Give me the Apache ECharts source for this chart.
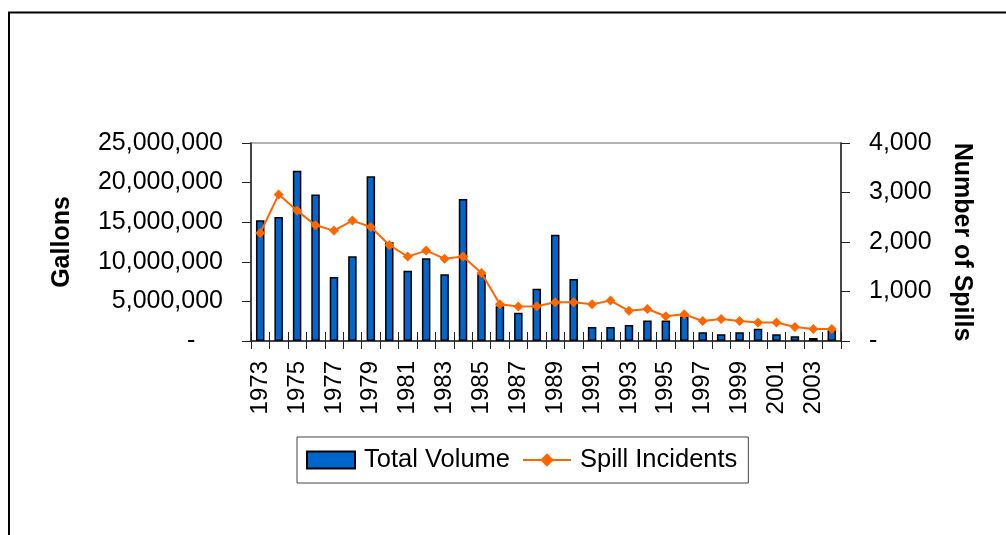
<!DOCTYPE html>
<html>
<head>
<meta charset="utf-8">
<script src="https://cdn.jsdelivr.net/npm/echarts@6/dist/echarts.min.js"></script>
<style>
html,body{margin:0;padding:0;background:#fff;}
#c{width:1006px;height:535px;}
</style>
</head>
<body>
<div id="c"></div>
<script>
const years = ['1973','1974','1975','1976','1977','1978','1979','1980','1981','1982','1983','1984','1985','1986','1987','1988','1989','1990','1991','1992','1993','1994','1995','1996','1997','1998','1999','2000','2001','2002','2003','2004'];
const totalVolume = [15240000,15660000,21500000,18500000,8080000,10700000,20800000,12460000,8880000,10440000,8420000,17930000,8420000,4380000,3580000,6610000,13430000,7830000,1770000,1770000,2020000,2600000,2600000,3100000,1100000,850000,1100000,1560000,850000,590000,380000,1350000];
const spillIncidents = [2182,2958,2634,2337,2230,2432,2303,1939,1705,1826,1664,1705,1374,741,695,701,782,782,741,816,610,646,499,539,404,444,404,372,372,283,242,242];

const FONT = 'Liberation Sans, Arial, sans-serif';
function fmt(v){ return v === 0 ? '-' : v.toLocaleString('en-US'); }

const chart = echarts.init(document.getElementById('c'));
chart.setOption({
  animation: false,
  backgroundColor: '#fff',
  graphic: [{
    type: 'rect',
    shape: {x: 9, y: 12.5, width: 1200, height: 700},
    style: {fill: 'none', stroke: '#000', lineWidth: 2},
    silent: true
  }],
  grid: {left: 251, right: 165, top: 143, bottom: 194, show: true, borderColor: '#999', borderWidth: 1.5, backgroundColor: 'transparent'},
  legend: {
    left: 297, top: 437,
    padding: [10, 11, 10, 9],
    borderColor: '#444', borderWidth: 1,
    itemWidth: 48, itemHeight: 17, itemGap: 12,
    textStyle: {fontFamily: FONT, fontSize: 25.5, color: '#000', lineHeight: 26, padding: [0,0,0,4]},
    data: [
      {name: 'Total Volume', icon: 'rect'},
      {name: 'Spill Incidents'}
    ]
  },
  xAxis: [{
    type: 'category', data: years, position: 'bottom',
    axisLine: {lineStyle: {color: '#222', width: 1.5}},
    axisTick: {show: true, length: 8, alignWithLabel: false, interval: 0, lineStyle: {color: '#222'}},
    axisLabel: {interval: 1, rotate: 90, margin: 20, fontFamily: FONT, fontSize: 24, color: '#000'},
    splitLine: {show: false}
  },{
    type: 'category', data: years, position: 'bottom',
    axisLine: {show: false},
    axisTick: {show: true, inside: true, length: 9, interval: 0, lineStyle: {color: '#222'}},
    axisLabel: {show: false},
    splitLine: {show: false}
  }],
  yAxis: [{
    type: 'value', min: 0, max: 25000000, interval: 5000000, position: 'left',
    name: 'Gallons', nameLocation: 'middle', nameGap: 176, nameRotate: 90,
    nameTextStyle: {fontFamily: FONT, fontSize: 25, fontWeight: 'bold', color: '#000'},
    axisLine: {show: true, onZero: false, lineStyle: {color: '#222', width: 1.5}},
    axisTick: {show: true, length: 9, lineStyle: {color: '#222'}},
    axisLabel: {margin: 28, fontFamily: FONT, fontSize: 25, color: '#000',
      formatter: v => v === 0 ? '-    ' : fmt(v)},
    splitLine: {show: false}
  },{
    type: 'value', min: 0, max: 4000, interval: 1000, position: 'right',
    name: 'Number of Spills', nameLocation: 'middle', nameGap: 108, nameRotate: -90,
    nameTextStyle: {fontFamily: FONT, fontSize: 25, fontWeight: 'bold', color: '#000'},
    axisLine: {show: true, onZero: false, lineStyle: {color: '#222', width: 1.5}},
    axisTick: {show: true, length: 9, lineStyle: {color: '#222'}},
    axisLabel: {margin: 28, fontFamily: FONT, fontSize: 25, color: '#000', formatter: fmt},
    splitLine: {show: false}
  }],
  series: [{
    name: 'Total Volume', type: 'bar', data: totalVolume, xAxisIndex: 0, yAxisIndex: 0,
    barWidth: 8.5,
    itemStyle: {color: '#0066CC', borderColor: '#000', borderWidth: 1.5}
  },{
    name: 'Spill Incidents', type: 'line', data: spillIncidents, xAxisIndex: 0, yAxisIndex: 1,
    symbol: 'diamond', symbolSize: 10, showAllSymbol: true,
    lineStyle: {color: '#FF6600', width: 2},
    itemStyle: {color: '#FF6600', borderWidth: 0},
    z: 5
  }]
});
</script>
</body>
</html>
